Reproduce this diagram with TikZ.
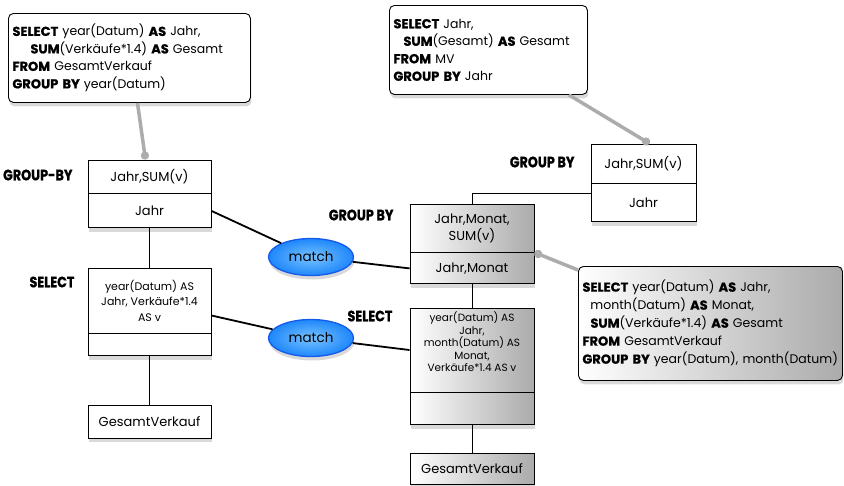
\documentclass[tikz,border=0pt]{standalone}
\usepackage{fontspec}
\setmainfont{Poppins}
\newfontfamily\kwfont{Poppins}[FakeStretch=0.85,FakeBold=1]
\newfontfamily\sqlkwfont{Poppins}[Scale=1.04,FakeBold=0.8]
\newcommand\kw[1]{{\sqlkwfont\bfseries #1}}
\usetikzlibrary{shapes.geometric,shadows,positioning,arrows.meta}
\definecolor{matchIn}{RGB}{120,195,255}
\definecolor{matchOut}{RGB}{30,135,250}
\definecolor{matchLine}{RGB}{20,90,235}
\begin{document}
\begin{tikzpicture}[x=1pt, y=-1pt,
  every node/.style={font=\fontsize{13}{15}\selectfont},
  shade/.style={drop shadow={shadow xshift=1pt, shadow yshift=-4pt, opacity=0.3}},
  part/.style={draw, line width=0.9pt, fill=white, inner sep=0pt, align=center, shade},
  gpart/.style={part, left color=white, right color=black!33},
  sql/.style={draw, line width=0.9pt, rounded corners=5pt, fill=white, align=left,
    inner sep=4pt, anchor=north west, shade, font=\fontsize{12.5}{17.5}\selectfont},
  kwlabel/.style={anchor=east, font=\fontsize{15}{17}\selectfont\kwfont\bfseries},
  match/.style={ellipse, draw=matchLine, line width=1.3pt, inner color=matchIn,
    outer color=matchOut, minimum width=85pt, minimum height=37pt,
    font=\fontsize{13.5}{15}\selectfont, shade},
  tree/.style={line width=0.9pt},
  link/.style={line width=1.8pt},
  note/.style={line width=3.5pt, gray!65, -{Circle[length=8pt]}}]
  \useasboundingbox (0,0) rectangle (844,485);
  % SQL texts
  \node[sql, text width=234pt, minimum height=89pt] (sqlA) at (8,13) {%
    \kw{SELECT} year(Datum) \kw{AS} Jahr,\\
    \hspace*{18pt}\kw{SUM}(Verkäufe*1.4) \kw{AS} Gesamt\\
    \kw{FROM} GesamtVerkauf\\
    \kw{GROUP BY} year(Datum)};
  \node[sql, text width=190pt, minimum height=89pt] (sqlB) at (389,5) {%
    \kw{SELECT} Jahr,\\
    \hspace*{10pt}\kw{SUM}(Gesamt) \kw{AS} Gesamt\\
    \kw{FROM} MV\\
    \kw{GROUP BY} Jahr};
  \node[sql, left color=white, right color=black!33, text width=256pt, minimum height=114pt,
    font=\fontsize{12.5}{18}\selectfont] (sqlC) at (578,266) {%
    \kw{SELECT} year(Datum) \kw{AS} Jahr,\\
    \hspace*{8pt}month(Datum) \kw{AS} Monat,\\
    \hspace*{8pt}\kw{SUM}(Verkäufe*1.4) \kw{AS} Gesamt\\
    \kw{FROM} GesamtVerkauf\\
    \kw{GROUP BY} year(Datum), month(Datum)};
  % left plan
  \node[part, minimum width=123pt, minimum height=33pt] (lgrpT) at (149.5,176.5) {Jahr,SUM(v)};
  \node[part, minimum width=123pt, minimum height=34pt, below=0pt of lgrpT] (lgrpB) {Jahr};
  \node[part, minimum width=123pt, minimum height=65pt, font=\fontsize{11}{15.5}\selectfont]
    (lselT) at (149.5,300.5) {year(Datum) AS\\Jahr, Verkäufe*1.4\\AS v};
  \node[part, minimum width=123pt, minimum height=22pt, below=0pt of lselT] (lselB) {};
  \node[part, minimum width=123pt, minimum height=33pt] (lges) at (149.5,421.5) {GesamtVerkauf};
  % middle plan
  \node[gpart, minimum width=124pt, minimum height=48pt, font=\fontsize{13}{17}\selectfont]
    (mgrpT) at (472,228) {Jahr,Monat,\\SUM(v)};
  \node[gpart, minimum width=124pt, minimum height=31pt, below=0pt of mgrpT] (mgrpB) {Jahr,Monat};
  \node[gpart, minimum width=124pt, minimum height=84pt, font=\fontsize{10.5}{12.5}\selectfont]
    (mselT) at (472,350) {year(Datum) AS\\Jahr,\\month(Datum) AS\\Monat,\\Verkäufe*1.4 AS v\\[4pt]};
  \node[gpart, minimum width=124pt, minimum height=32pt, below=0pt of mselT] (mselB) {};
  \node[gpart, minimum width=124pt, minimum height=31pt] (mges) at (472,468.5) {GesamtVerkauf};
  % right plan
  \node[part, minimum width=105pt, minimum height=39pt] (rgrpT) at (643.5,163.5) {Jahr,SUM(v)};
  \node[part, minimum width=105pt, minimum height=38pt, below=0pt of rgrpT] (rgrpB) {Jahr};
  % operator labels
  \node[kwlabel] (lblGrpL) at (76,175) {GROUP-BY};
  \node[kwlabel] (lblSelL) at (78,282) {SELECT};
  \node[kwlabel] (lblGrpM) at (397,215) {GROUP BY};
  \node[kwlabel] (lblSelM) at (396,316) {SELECT};
  \node[kwlabel] (lblGrpR) at (578,162) {GROUP BY};
  % tree edges
  \draw[tree] (lgrpB) -- (lselT);
  \draw[tree] (lselB) -- (lges);
  \draw[tree] (mgrpB) -- (mselT);
  \draw[tree] (mselB) -- (mges);
  \draw[tree] (mgrpT.north) |- ([yshift=-9.5pt]rgrpB.north west);
  % matches
  \node[match] (match1) at (311,257) {match};
  \node[match] (match2) at (311,338) {match};
  \draw[link] (lgrpB.east) -- (match1);
  \draw[link] (match1) -- (mgrpB.west);
  \draw[link] ([yshift=-15pt]lselT.east) -- (match2);
  \draw[link] (match2) -- (mselT.west);
  % notes
  \draw[note] ([xshift=8pt]sqlA.south) -- ([xshift=-4pt]lgrpT.north);
  \draw[note] ([xshift=-19pt]sqlB.south east) -- ([xshift=6pt]rgrpT.north);
  \draw[note] ([yshift=-4pt]sqlC.north west) -- (mgrpB.north east);
\end{tikzpicture}
\end{document}
